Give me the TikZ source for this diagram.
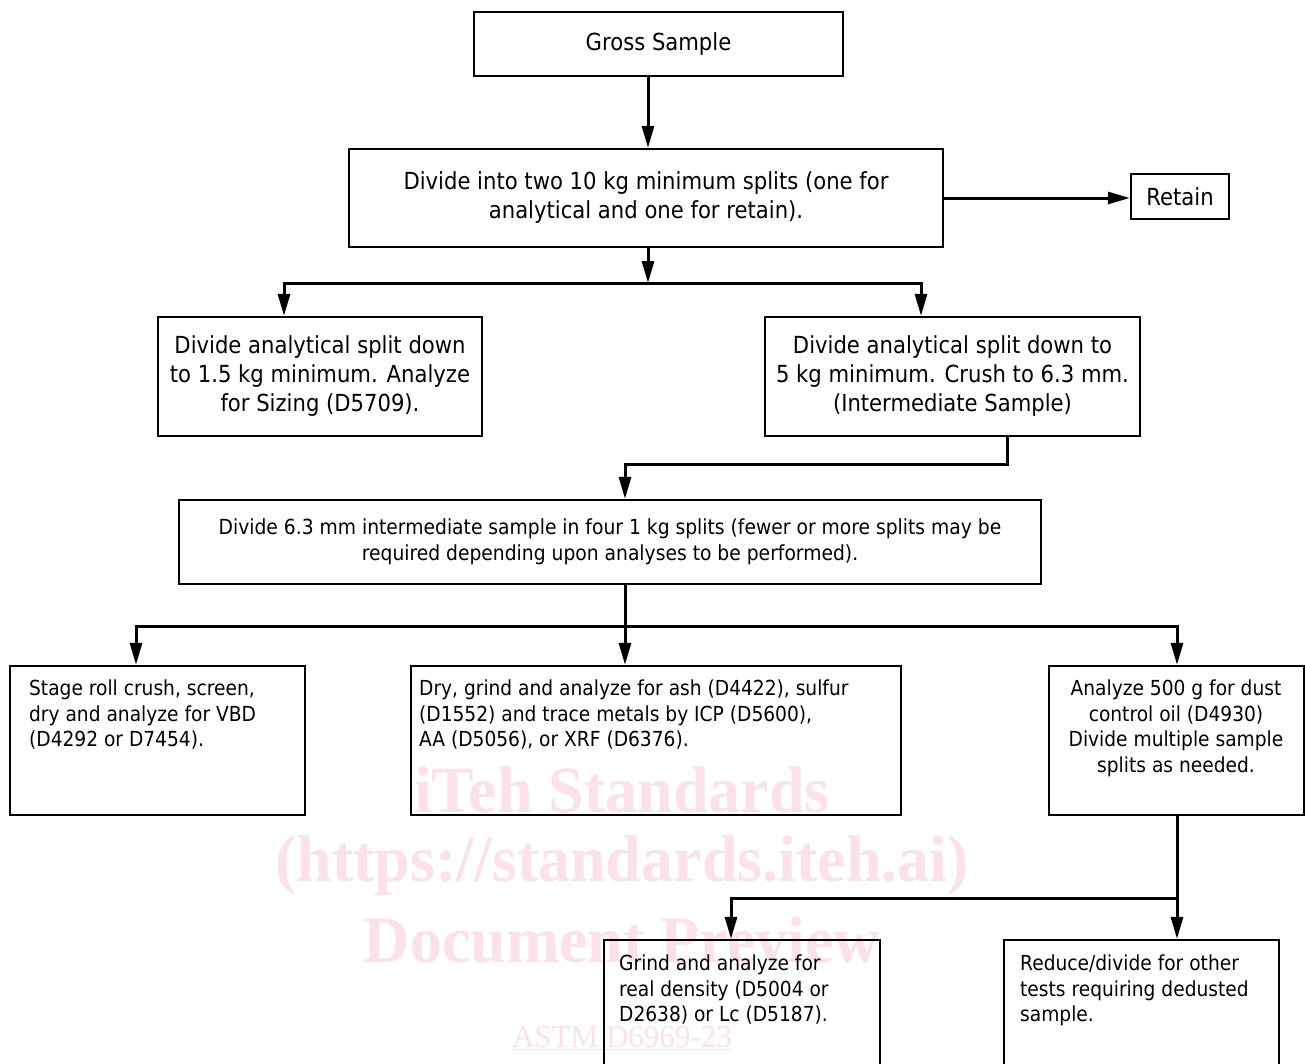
\documentclass[tikz,border=0pt]{standalone}
\usepackage{fontspec}
\setmainfont{DejaVu Sans}[FakeStretch=0.9]
\newfontfamily\wmfont{Liberation Serif}[FakeStretch=0.97]
\usetikzlibrary{arrows.meta,calc}
\definecolor{wm}{RGB}{251,226,234}
\begin{document}
\begin{tikzpicture}[x=1pt,y=-1pt,
  line width=2.3pt,
  box/.style={draw, inner sep=0pt, align=center},
  big/.style={font=\fontsize{23.5}{29}\selectfont},
  mid/.style={font=\fontsize{20.7}{25.5}\selectfont},
  sml/.style={font=\fontsize{20.8}{26}\selectfont},
  txt/.style={inner sep=0pt, align=left},
  arr/.style={line width=3pt, -{Triangle[length=22pt,width=12pt]}},
  wmtext/.style={text=wm, inner sep=0pt, font=\wmfont\bfseries\fontsize{66}{66}\selectfont}]
\clip (0,0) rectangle (1305,1063);
\fill[white] (0,0) rectangle (1305,1063);
% watermark
\node[wmtext] (w1) at (622,790) {iTeh Standards};
\node[wmtext] (w2) at (622,866) {(https://standards.iteh.ai)};
\node[wmtext] (w3) at (622,940) {Document Preview};
\node[text=wm, inner sep=0pt, font=\wmfont\fontsize{32}{32}\selectfont] (w4) at (622,1038) {\underline{ASTM D6969-23}};
% boxes
\node[box, big, minimum width=369, minimum height=64] (G) at (658.5,44) {Gross Sample};
\node[box, big, minimum width=594, minimum height=98] (D1) at (646,198) {Divide into two 10 kg minimum splits (one for\\analytical and one for retain).};
\node[box, big, minimum width=98, minimum height=45] (R) at (1180,196.5) {Retain};
\node[box, big, minimum width=324, minimum height=119] (L) at (320,376.5) {Divide analytical split down\\to 1.5 kg minimum. Analyze\\for Sizing (D5709).};
\node[box, big, minimum width=375, minimum height=119] (M) at (952.5,376.5) {Divide analytical split down to\\5 kg minimum. Crush to 6.3 mm.\\(Intermediate Sample)};
\node[box, sml, minimum width=862, minimum height=84] (I) at (610,542) {Divide 6.3 mm intermediate sample in four 1 kg splits (fewer or more splits may be\\required depending upon analyses to be performed).};
\node[box, minimum width=295, minimum height=149] (A) at (157.5,740.5) {};
\node[box, minimum width=490, minimum height=149] (B) at (656,740.5) {};
\node[box, minimum width=255, minimum height=149] (C) at (1176.5,740.5) {};
\node[box, minimum width=276, minimum height=140] (D) at (742,1010) {};
\node[box, minimum width=275, minimum height=140] (E) at (1141.5,1010) {};
% texts in lower boxes
\node[txt, mid, anchor=north west] (tA) at (28,679) {Stage roll crush, screen,\\dry and analyze for VBD\\(D4292 or D7454).};
\node[txt, mid, anchor=north west] (tB) at (418,679) {Dry, grind and analyze for ash (D4422), sulfur\\(D1552) and trace metals by ICP (D5600),\\AA (D5056), or XRF (D6376).};
\node[txt, mid, anchor=north, align=center] (tC) at (1176,679) {Analyze 500 g for dust\\control oil (D4930)\\Divide multiple sample\\splits as needed.};
\node[txt, mid, anchor=north west] (tD) at (618,954) {Grind and analyze for\\real density (D5004 or\\D2638) or Lc (D5187).};
\node[txt, mid, anchor=north west] (tE) at (1019,954) {Reduce/divide for other\\tests requiring dedusted\\sample.};
% connectors
\coordinate (s1) at (648,283);
\coordinate (s2) at (625,626);
\coordinate (s3) at (1177,898);
\draw[arr] (648,0 |- G.south) -- (648,0 |- D1.north);
\draw[arr] (D1.east) -- (D1.east -| R.west);
\draw[arr] (s1 |- D1.south) -- (s1);
\draw[arr] (s1) -| (284,0 |- L.north);
\draw[arr] (s1) -| (921,0 |- M.north);
\draw[arr] (1007,0 |- M.south) |- (625,464) -- (625,0 |- I.north);
\draw[arr] (s2 |- I.south) -- (s2 |- B.north);
\draw[arr] (s2) -| (136,0 |- A.north);
\draw[arr] (s2) -| (1177,0 |- C.north);
\draw[arr] (s3 |- C.south) -- (s3 |- E.north);
\draw[arr] (s3) -| (731,0 |- D.north);
\end{tikzpicture}
\end{document}
